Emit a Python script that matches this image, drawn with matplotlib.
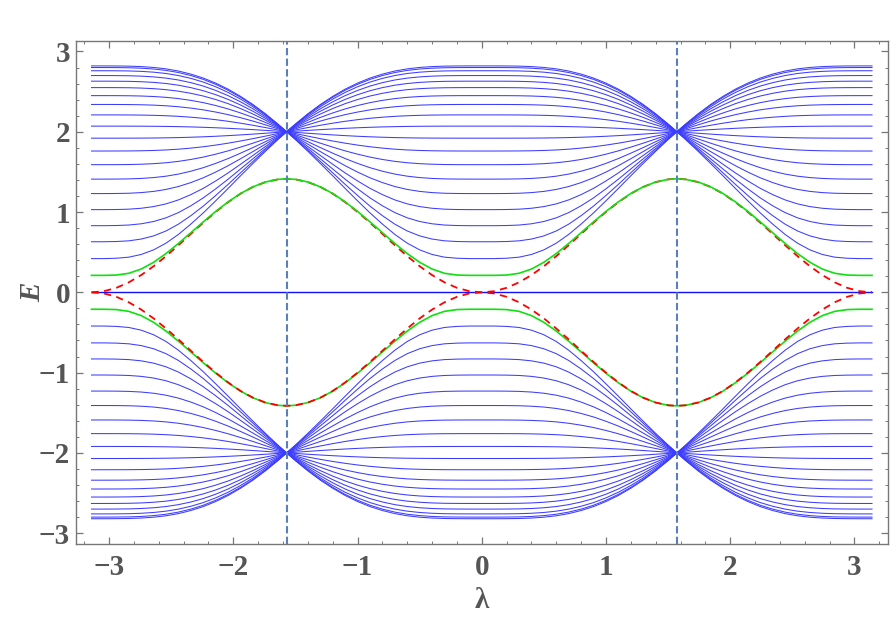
import numpy as np
import matplotlib.pyplot as plt

# band energies at lambda = 0 (same at +-pi); spectrum is symmetric E -> -E
levels = [0.42, 0.63, 0.83, 1.03, 1.23, 1.41, 1.59, 1.76, 1.92, 2.07,
          2.21, 2.34, 2.45, 2.55, 2.63, 2.70, 2.76, 2.80, 2.82]

# quarter period, lambda from 0 to pi/2 (the rest follows by symmetry)
lam_q = [0.0, 0.1, 0.2, 0.3, 0.4, 0.5, 0.6, 0.7, 0.8, 0.9, 1.0,
         1.1, 1.2, 1.3, 1.4, 1.5, np.pi / 2]
squeeze = [1.000, 1.000, 0.999, 0.996, 0.988, 0.973, 0.948, 0.910, 0.857,
           0.790, 0.706, 0.608, 0.495, 0.372, 0.239, 0.100, 0.000]
# green edge level and red dashed curve on the same grid
green = [0.211, 0.211, 0.215, 0.237, 0.290, 0.374, 0.483, 0.609, 0.743,
         0.878, 1.008, 1.127, 1.231, 1.314, 1.374, 1.407, 1.414]
red = [0.000, 0.014, 0.056, 0.124, 0.215, 0.325, 0.451, 0.587, 0.728,
       0.868, 1.001, 1.123, 1.229, 1.313, 1.373, 1.407, 1.414]

xticks = [-3, -2, -1, 0, 1, 2, 3]
yticks = [-3, -2, -1, 0, 1, 2, 3]


def unfold(v):
    v = np.asarray(v, dtype=float)
    return np.concatenate([v, v[::-1][1:], v[1:], v[::-1][1:]])


q = np.asarray(lam_q)
lam = np.concatenate([-np.pi + q, -q[::-1][1:], q[1:], np.pi - q[::-1][1:]])
sq = unfold(squeeze)

fig = plt.figure(figsize=(8.91, 6.17), dpi=100)
ax = fig.add_axes([0.0848, 0.1183, 0.9118, 0.8152])

#-----bands--------
for e0 in levels:
    e = np.sqrt(4 + (e0 ** 2 - 4) * sq)
    ax.plot(lam, e, color='#3c3cff', lw=0.75)
    ax.plot(lam, -e, color='#3c3cff', lw=0.75)
ax.plot(lam, np.zeros_like(lam), color='#1010ff', lw=1.0)

g = unfold(green)
r = unfold(red)
ax.plot(lam, -g, color='#10e010', lw=1.2)
ax.plot(lam, r, color='red', lw=1.3, ls=(0, (4, 3)))
ax.plot(lam, -r, color='red', lw=1.3, ls=(0, (4, 3)))
ax.plot(lam, g, color='#10e010', lw=1.2)

for xv in (-np.pi / 2, np.pi / 2):
    ax.axvline(xv, color='#5b7fbd', lw=1.5, ls=(0, (3.5, 1.6)))

ax.set_xlim(-3.27, 3.27)
ax.set_ylim(-3.135, 3.13)

#-----frame and ticks--------
font = dict(family='Liberation Serif', weight='bold', size=21, color='#555555')
ax.set_xticks(xticks)
ax.set_yticks(yticks)
ax.set_xticks(np.arange(-3.2, 3.21, 0.2), minor=True)
ax.set_yticks(np.arange(-3.0, 3.01, 0.2), minor=True)
ax.set_xticklabels(['\u2212%d' % -t if t < 0 else '%d' % t for t in xticks], fontdict=font)
ax.set_yticklabels(['\u2212%d' % -t if t < 0 else '%d' % t for t in yticks], fontdict=font)
ax.tick_params(which='both', direction='in', top=True, right=True, color='#777777')
ax.tick_params(which='major', length=5, width=0.9)
ax.tick_params(which='minor', length=2.5, width=0.7)
ax.tick_params(axis='x', pad=7)
ax.tick_params(axis='y', pad=4)
for s in ax.spines.values():
    s.set_color('#777777')
    s.set_linewidth(1.0)

fig.text(33 / 891, 1 - 292 / 617, 'E', rotation=90, ha='center', va='center',
         family='Liberation Serif', weight='bold', style='italic', size=21, color='#555555')
fig.text(482 / 891, 1 - 601 / 617, '\u03bb', ha='center', va='center',
         family='Liberation Serif', weight='bold', size=21, color='#555555')

fig.savefig('out.png', dpi=100)
